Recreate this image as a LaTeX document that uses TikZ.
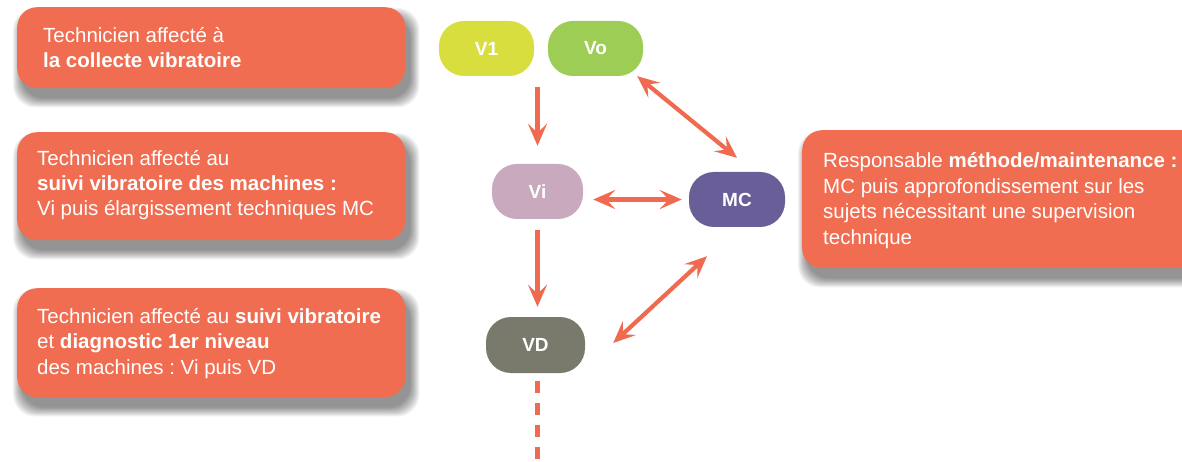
\documentclass[tikz,border=0pt]{standalone}
\usepackage{fontspec}
\setmainfont{Liberation Sans}
\usetikzlibrary{arrows.meta,calc}
\frenchspacing
\definecolor{boxc}{HTML}{F06D51}
\definecolor{arrc}{HTML}{EF6A4E}
\definecolor{cvone}{HTML}{D9DE3F}
\definecolor{cvo}{HTML}{9ECD55}
\definecolor{cvi}{HTML}{C8A9BE}
\definecolor{cmc}{HTML}{695E98}
\definecolor{cvd}{HTML}{7A7A6C}
\pgfdeclarelayer{bg}
\pgfsetlayers{bg,main}
\begin{document}
\begin{tikzpicture}[x=1pt,y=-1pt,
  infobox/.style={fill=boxc, rounded corners=20pt, anchor=north west, inner sep=0pt},
  shadowlayer/.style={fill=black, opacity=0.05, rounded corners=22pt},
  infotext/.style={anchor=base west, align=left, inner sep=0pt, text=white,
    font=\fontsize{20.5}{25.5}\selectfont},
  pill/.style={rounded corners=25pt, minimum width=95pt, minimum height=55pt, inner sep=0pt,
    text=white, font=\fontsize{19}{21}\selectfont\bfseries},
  tip/.tip={Stealth[length=22pt,width=19pt,inset=9pt]},
  arr/.style={draw=arrc, line width=4.2pt, -tip},
  dblarr/.style={draw=arrc, line width=4.2pt, tip-tip},
  dashline/.style={draw=arrc, line width=4.2pt, dash pattern=on 12pt off 10pt}
]
\useasboundingbox (0,0) rectangle (1182,462);
\clip (0,0) rectangle (1182,462);

% info boxes
\node[infobox, minimum width=388pt, minimum height=81pt] (b1) at (17,7) {};
\node[infobox, minimum width=388pt, minimum height=108pt] (b2) at (17,132) {};
\node[infobox, minimum width=388pt, minimum height=109pt] (b3) at (17,288) {};
\node[infobox, minimum width=400pt, minimum height=138pt] (b4) at (802,130) {};

\begin{pgfonlayer}{bg}
  \fill[white] (0,0) rectangle (1182,462);
  \foreach \b in {b1,b2,b3,b4}{
    \foreach \i in {0,...,9}{
      \fill[shadowlayer] ($(\b.north west)+(5-\i,10-\i)$) rectangle ($(\b.south east)+(5+\i,10+\i)$);
    }
  }
\end{pgfonlayer}

\node[infotext] (t1) at (43,68) {Technicien affecté à\\\textbf{la collecte vibratoire}};
\node[infotext] (t2) at (37,216) {Technicien affecté au\\\textbf{suivi vibratoire des machines :}\\Vi puis élargissement techniques MC};
\node[infotext] (t3) at (37,374) {Technicien affecté au \textbf{suivi vibratoire}\\et \textbf{diagnostic 1er niveau}\\des machines : Vi puis VD};
\node[infotext] (t4) at (823,244) {Responsable \textbf{méthode/maintenance :}\\MC puis approfondissement sur les\\sujets nécessitant une supervision\\technique};

% pills
\node[pill, fill=cvone] (V1) at (486.5,48.5) {V1};
\node[pill, fill=cvo] (Vo) at (595.5,48.5) {Vo};
\node[pill, fill=cvi, minimum width=91pt] (Vi) at (537.5,191.5) {Vi};
\node[pill, fill=cmc, minimum width=96pt] (MC) at (737,199.5) {MC};
\node[pill, fill=cvd, minimum width=99pt, minimum height=56pt] (VD) at (535.5,345) {VD};

% connectors
\coordinate (bottom) at (0,470);
\draw[arr, shorten <=11pt, shorten >=18pt] (V1.south -| Vi.north) -- (Vi.north);
\draw[dblarr] ($(Vo.south east)+(-6,0)$) -- ($(MC.north)+(0,-14)$);
\draw[dblarr] ($(Vi.east |- MC.west)+(10,0)$) -- ($(MC.west)+(-7,0)$);
\draw[arr, shorten <=11pt, shorten >=10pt] (Vi.south) -- (Vi.south |- VD.north);
\draw[dblarr] ($(MC.south)+(-30,29)$) -- ($(VD.east)+(28,-2)$);
\draw[dashline, shorten <=8pt] (VD.south -| Vi.south) -- (Vi.south |- bottom);
\end{tikzpicture}
\end{document}
